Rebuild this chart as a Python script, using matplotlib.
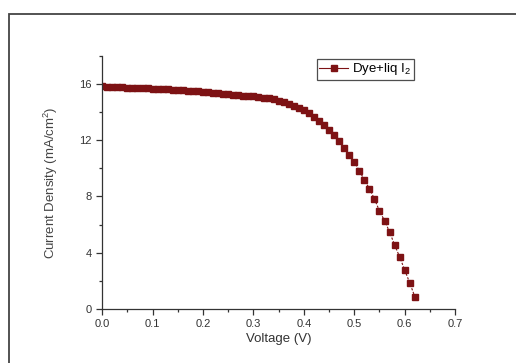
import matplotlib
matplotlib.use("Agg")
import matplotlib.pyplot as plt
from matplotlib.patches import Rectangle
from matplotlib.ticker import MultipleLocator

plt.rcParams['font.family'] = ['Liberation Sans', 'DejaVu Sans']
plt.rcParams['mathtext.fontset'] = 'custom'
plt.rcParams['mathtext.rm'] = 'Liberation Sans'

# J-V curve
voltage = [0.00, 0.01, 0.02, 0.03, 0.04, 0.05, 0.06, 0.07, 0.08, 0.09,
           0.10, 0.11, 0.12, 0.13, 0.14, 0.15, 0.16, 0.17, 0.18, 0.19,
           0.20, 0.21, 0.22, 0.23, 0.24, 0.25, 0.26, 0.27, 0.28, 0.29,
           0.30, 0.31, 0.32, 0.33, 0.34, 0.35, 0.36, 0.37, 0.38, 0.39,
           0.40, 0.41, 0.42, 0.43, 0.44, 0.45, 0.46, 0.47, 0.48, 0.49,
           0.50, 0.51, 0.52, 0.53, 0.54, 0.55, 0.56, 0.57, 0.58, 0.59,
           0.60, 0.61, 0.62]
current = [15.83, 15.82, 15.80, 15.78, 15.77, 15.75, 15.74, 15.72, 15.71, 15.69,
           15.67, 15.66, 15.64, 15.62, 15.60, 15.58, 15.56, 15.53, 15.50, 15.47,
           15.44, 15.41, 15.38, 15.35, 15.31, 15.28, 15.25, 15.22, 15.18, 15.15,
           15.12, 15.07, 15.03, 14.98, 14.91, 14.81, 14.72, 14.58, 14.43, 14.29,
           14.13, 13.91, 13.63, 13.39, 13.06, 12.75, 12.35, 11.95, 11.47, 10.95,
           10.45, 9.84, 9.17, 8.56, 7.82, 6.97, 6.28, 5.48, 4.55, 3.70,
           2.77, 1.85, 0.88]

red = '#7d1214'
grey = '#333333'

fig = plt.figure(figsize=(5.16, 3.63), dpi=100)
# outer frame of the original page
fig.patches.append(Rectangle((9 / 516, -0.1), 1.2, 1 - 14 / 363 + 0.1,
                             transform=fig.transFigure, fill=False,
                             edgecolor='#444444', linewidth=1.3))

ax = fig.add_axes([0.198, 0.149, 0.684, 0.697])
ax.plot(voltage, current, linestyle=(0, (2, 1.5)), linewidth=0.8, color=red,
        marker='s', markersize=5.0, markerfacecolor=red, markeredgecolor=red,
        label='Dye+liq I$_2$')

ax.set_xlim(0, 0.7)
ax.set_ylim(0, 18)
ax.xaxis.set_major_locator(MultipleLocator(0.1))
ax.xaxis.set_minor_locator(MultipleLocator(0.05))
ax.yaxis.set_major_locator(MultipleLocator(4))
ax.yaxis.set_minor_locator(MultipleLocator(2))
ax.set_xticklabels([f'{v:.1f}' for v in ax.get_xticks()])

for s in ['top', 'right']:
    ax.spines[s].set_visible(False)
for s in ['left', 'bottom']:
    ax.spines[s].set_color(grey)
    ax.spines[s].set_linewidth(0.9)
ax.tick_params(which='major', direction='out', length=4, width=0.9,
               colors=grey, labelsize=8)
ax.tick_params(which='minor', direction='out', length=2.5, width=0.9, colors=grey)

ax.set_xlabel('Voltage (V)', fontsize=9.5, color=grey, labelpad=3)
ax.set_ylabel('Current Density (mA/cm$^2$)', fontsize=9.5, color='#444444', labelpad=14)

leg = ax.legend(loc='upper left', bbox_to_anchor=(0.6, 1.0), fontsize=9.5,
                frameon=True, fancybox=False, borderpad=0.2, handlelength=2.2,
                handletextpad=0.3, borderaxespad=0.2)
leg.get_frame().set_edgecolor('#222222')
leg.get_frame().set_linewidth(0.9)
leg.get_lines()[0].set_linestyle('-')

fig.savefig('out.png', dpi=100)
